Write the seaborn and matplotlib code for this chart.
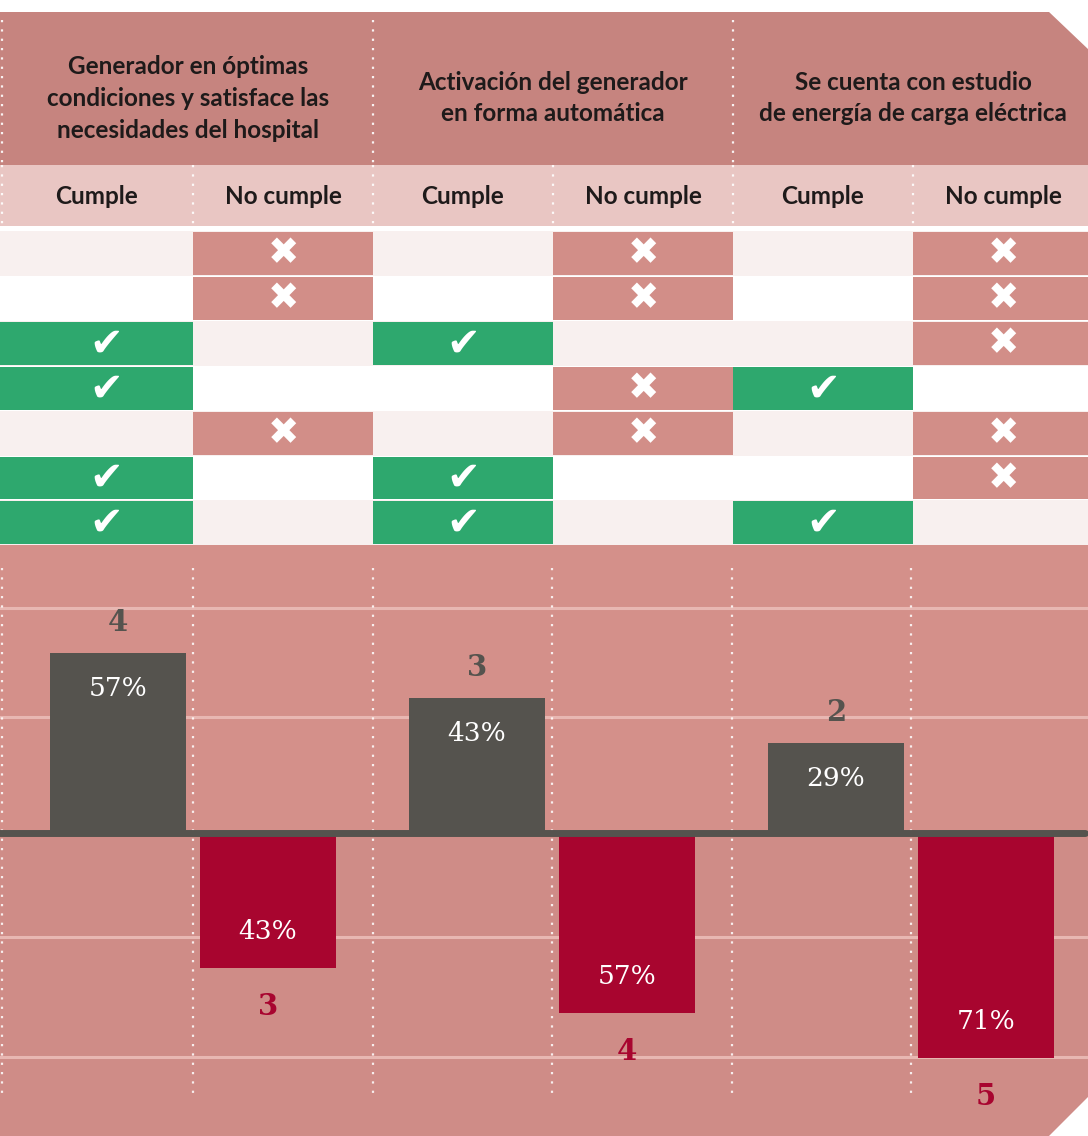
import numpy as np
import pandas as pd
import matplotlib
matplotlib.use("Agg")
import matplotlib.pyplot as plt
import seaborn as sns
from matplotlib.patches import Rectangle, Polygon

# ---------------- data ----------------
titulos_generador = ["Generador en óptimas", "condiciones y satisface las", "necesidades del hospital"]
titulos_activacion = ["Activación del generador", "en forma automática"]
titulos_estudio = ["Se cuenta con estudio", "de energía de carga eléctrica"]
estados = ["Cumple", "No cumple"]
grupos = ["Generador", "Activación", "Estudio"]

# one answer per hospital (row): C = cumple, N = no cumple
respuestas_generador = ["N", "N", "C", "C", "N", "C", "C"]
respuestas_activacion = ["N", "N", "C", "N", "N", "C", "C"]
respuestas_estudio = ["N", "N", "N", "C", "N", "N", "C"]

cumple_n = [4, 3, 2]
no_cumple_n = [3, 4, 5]
cumple_pct = ["57%", "43%", "29%"]
no_cumple_pct = ["43%", "57%", "71%"]

# ---------------- style ----------------
C_HEADER = "#c6847f"
C_SUB = "#e9c6c3"
C_BG_TOP = "#d4908a"
C_BG_BOT = "#cf8c87"
C_ROW_A = "#f8f0ef"
C_ROW_B = "#ffffff"
C_GREEN = "#2ea86e"
C_XCELL = "#d28e88"
C_GRAY = "#55534e"
C_RED = "#a8052f"
C_GRID = "#e8b7b2"

TITLE_FONT = dict(family=["Lato", "DejaVu Sans"], weight="bold", size=17.5, color="#1e1a1a")

W, H = 1088, 1136
fig = plt.figure(figsize=(W / 100, H / 100), dpi=100)
fig.patch.set_facecolor("white")

bg = fig.add_axes([0, 0, 1, 1], zorder=0)
bg.set_xlim(0, W)
bg.set_ylim(H, 0)
bg.axis("off")

# background blocks
bg.add_patch(Rectangle((0, 12), W, 153, color=C_HEADER, lw=0))
bg.add_patch(Rectangle((0, 165), W, 61, color=C_SUB, lw=0))
bg.add_patch(Rectangle((0, 545), W, 288, color=C_BG_TOP, lw=0))
bg.add_patch(Rectangle((0, 833), W, H - 833, color=C_BG_BOT, lw=0))

# group titles
group_cx = [188, 553, 913]
for lines, cx, y0 in [(titulos_generador, group_cx[0], 67),
                      (titulos_activacion, group_cx[1], 82),
                      (titulos_estudio, group_cx[2], 82)]:
    for k, line in enumerate(lines):
        bg.text(cx, y0 + 31.5 * k, line, ha="center", va="center", **TITLE_FONT)

# column headers
col_left = [0, 193, 373, 553, 733, 913]
col_right = [193, 373, 553, 733, 913, W]
col_cx = [97, 283, 463, 643, 823, 1003]
for j in range(6):
    bg.text(col_cx[j], 196, estados[j % 2], ha="center", va="center", **TITLE_FONT)

# dotted separators in header
dot = dict(color="white", lw=1.6, linestyle=(0, (1, 3.2)), alpha=0.9)
for x in [2, 373, 733]:
    bg.plot([x, x], [20, 165], **dot)
for x in [2, 193, 373, 553, 733, 913]:
    bg.plot([x, x], [165, 226], **dot)

# table
row_top0, row_h = 231, 44.9
respuestas = [respuestas_generador, respuestas_activacion, respuestas_estudio]
n_rows = len(respuestas_generador)
for i in range(n_rows):
    y = row_top0 + i * row_h
    bg.bar(0, row_h, width=W, bottom=y, align="edge",
           color=C_ROW_A if i % 2 == 0 else C_ROW_B, lw=0)
for g, resp in enumerate(respuestas):
    for i, r in enumerate(resp):
        j = 2 * g + (0 if r == "C" else 1)
        y = row_top0 + i * row_h
        col = C_GREEN if r == "C" else C_XCELL
        bg.bar(col_left[j], row_h - 2, width=col_right[j] - col_left[j], bottom=y + 1,
               align="edge", color=col, lw=0)
        sym = "\u2714" if r == "C" else "\u2716"
        bg.text(col_cx[j] + (9 if j == 0 else 0), y + row_h / 2 + 1, sym, ha="center",
                va="center", color="white", fontsize=29 if r == "C" else 27,
                family="DejaVu Sans")

# ---------------- bar chart ----------------
px_per_x = 359.0
px_per_y = 45.0
base_px = 833
top_px = 545
ax = fig.add_axes([0, 0, 1, (H - top_px) / H], zorder=1)
ax.patch.set_alpha(0)

df = pd.DataFrame({
    "grupo": grupos * 2,
    "estado": [estados[0]] * 3 + [estados[1]] * 3,
    "valor": list(cumple_n) + [-v for v in no_cumple_n],
})
sns.barplot(data=df, x="grupo", y="valor", hue="estado", order=grupos, hue_order=estados,
            palette={estados[0]: C_GRAY, estados[1]: C_RED}, width=0.836, gap=0.09,
            saturation=1, legend=False, ax=ax, zorder=3, linewidth=0)

ax.set_xlim(-193 / px_per_x, (W - 193) / px_per_x)
ax.set_ylim(-(H - base_px) / px_per_y, (base_px - top_px) / px_per_y)
ax.axis("off")

# light horizontal guide lines
for yv in [5.0, 2.58, -2.31, -4.98]:
    ax.axhline(yv, color=C_GRID, lw=2.2, zorder=1)
# dotted vertical lines
for xv in [-0.532, 0, 0.5, 1, 1.5, 2]:
    ax.plot([xv, xv], [5.9, -5.9], color="white", lw=1.6, linestyle=(0, (1, 3.2)),
            alpha=0.85, zorder=2)
# baseline
ax.plot([-0.54, (1085 - 193) / px_per_x], [0, 0], color=C_GRAY, lw=5,
        solid_capstyle="round", zorder=4)

count_font = dict(family="DejaVu Serif", weight="bold", size=21)
pct_font = dict(family="DejaVu Serif", size=19, color="white")
for k, bar in enumerate(ax.containers[0]):
    cx = bar.get_x() + bar.get_width() / 2
    h = bar.get_height()
    ax.text(cx, h + 0.68, str(cumple_n[k]), ha="center", va="center", color=C_GRAY,
            zorder=5, **count_font)
    ax.text(cx, h - 0.78, cumple_pct[k], ha="center", va="center", zorder=5, **pct_font)
for k, bar in enumerate(ax.containers[1]):
    cx = bar.get_x() + bar.get_width() / 2
    h = bar.get_height()
    ax.text(cx, h - 0.85, str(no_cumple_n[k]), ha="center", va="center", color=C_RED,
            zorder=5, **count_font)
    ax.text(cx, h + 0.82, no_cumple_pct[k], ha="center", va="center", zorder=5, **pct_font)

# cut corners
top_ax = fig.add_axes([0, 0, 1, 1], zorder=6)
top_ax.set_xlim(0, W)
top_ax.set_ylim(H, 0)
top_ax.axis("off")
top_ax.patch.set_alpha(0)
top_ax.add_patch(Polygon([[1048, 11], [W + 1, 11], [W + 1, 50]], color="white", lw=0))
top_ax.add_patch(Polygon([[1048, H + 1], [W + 1, H + 1], [W + 1, 1096]], color="white", lw=0))

fig.savefig("out.png", dpi=100, facecolor="white")
